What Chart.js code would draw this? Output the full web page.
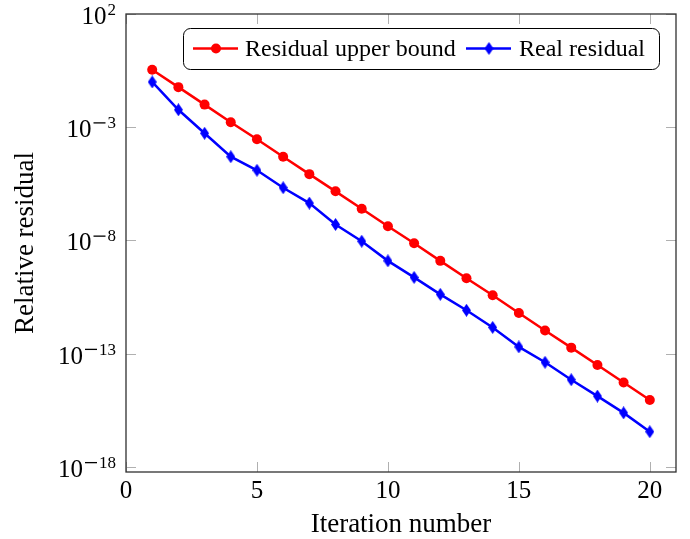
<!DOCTYPE html>
<html>
<head>
<meta charset="utf-8">
<script src="https://cdn.jsdelivr.net/npm/chart.js@4"></script>
<style>
  html, body { margin: 0; padding: 0; background: #fff; }
  #wrap { width: 690px; height: 539px; }
</style>
</head>
<body>
<div id="wrap"><canvas id="myChart" width="690" height="539"></canvas></div>
<script>
const iterations = [1, 2, 3, 4, 5, 6, 7, 8, 9, 10, 11, 12, 13, 14, 15, 16, 17, 18, 19, 20];
const upperBound = [3.47e-1, 5.9e-2, 1.0e-2, 1.66e-3, 2.95e-4, 5.0e-5, 8.5e-6, 1.48e-6, 2.51e-7, 4.27e-8,
                    7.6e-9, 1.26e-9, 2.14e-10, 3.8e-11, 6.3e-12, 1.07e-12, 1.86e-13, 3.16e-14, 5.37e-15, 9.1e-16];
const realResidual = [1.0e-1, 5.9e-3, 5.4e-4, 5.0e-5, 1.26e-5, 2.14e-6, 4.47e-7, 5.1e-8, 9.3e-9, 1.26e-9,
                      2.34e-10, 4.2e-11, 8.3e-12, 1.45e-12, 2.0e-13, 4.2e-14, 7.1e-15, 1.35e-15, 2.45e-16, 3.6e-17];
const xTicks = [0, 5, 10, 15, 20];
const yExponents = [2, -3, -8, -13, -18];
const seriesNames = ['Residual upper bound', 'Real residual'];

const FONT = '"Liberation Serif", "DejaVu Serif", serif';

// tall diamond marker like pgfplots
function makeDiamond(color) {
    const c = document.createElement('canvas');
    c.width = 9; c.height = 13;
    const g = c.getContext('2d');
    g.fillStyle = color;
    g.beginPath();
    g.moveTo(4.5, 0); g.lineTo(9, 6.5); g.lineTo(4.5, 13); g.lineTo(0, 6.5);
    g.closePath(); g.fill();
    return c;
}
const diamond = makeDiamond('#0000ff');

function drawPow(ctx, x, y, exp) {
    // "10" with raised exponent, right aligned at x, tick at y
    ctx.textAlign = 'right';
    ctx.textBaseline = 'alphabetic';
    ctx.font = '17px ' + FONT;
    const digits = String(Math.abs(exp));
    const dw = ctx.measureText(digits).width;
    ctx.fillText(digits, x, y + 1);
    let left = x - dw;
    if (exp < 0) {
        // wide math minus
        ctx.fillRect(left - 14, y - 5, 12, 1.3);
        left -= 15;
    }
    ctx.font = '25px ' + FONT;
    ctx.fillText('10', left - 1, y + 10);
}

const decor = {
    id: 'decor',
    afterDraw(chart) {
        const ctx = chart.ctx;
        const a = chart.chartArea;
        const xs = chart.scales.x, ys = chart.scales.y;
        ctx.save();
        // tick marks
        ctx.strokeStyle = '#b0b0b0';
        ctx.lineWidth = 1;
        ctx.beginPath();
        xTicks.forEach(t => {
            const px = Math.round(xs.getPixelForValue(t)) + 0.5;
            ctx.moveTo(px, a.bottom); ctx.lineTo(px, a.bottom - 10);
            ctx.moveTo(px, a.top); ctx.lineTo(px, a.top + 10);
        });
        yExponents.forEach(e => {
            const py = Math.round(ys.getPixelForValue(Math.pow(10, e))) + 0.5;
            ctx.moveTo(a.left, py); ctx.lineTo(a.left + 10, py);
            ctx.moveTo(a.right, py); ctx.lineTo(a.right - 10, py);
        });
        ctx.stroke();
        // frame
        ctx.strokeStyle = '#303030';
        ctx.lineWidth = 1.3;
        ctx.strokeRect(a.left, a.top, a.right - a.left, a.bottom - a.top);
        // tick labels
        ctx.fillStyle = '#000';
        ctx.font = '25px ' + FONT;
        ctx.textAlign = 'center';
        ctx.textBaseline = 'alphabetic';
        xTicks.forEach(t => ctx.fillText(String(t), xs.getPixelForValue(t), 498));
        yExponents.forEach(e => drawPow(ctx, 116, ys.getPixelForValue(Math.pow(10, e)), e));
        // axis titles
        ctx.font = '27px ' + FONT;
        ctx.textAlign = 'center';
        ctx.textBaseline = 'alphabetic';
        ctx.fillText('Iteration number', (a.left + a.right) / 2, 532);
        ctx.save();
        ctx.translate(33, (a.top + a.bottom) / 2);
        ctx.rotate(-Math.PI / 2);
        ctx.fillText('Relative residual', 0, 0);
        ctx.restore();
        // legend
        const bx = 183.5, by = 28.5, bw = 476, bh = 41;
        ctx.fillStyle = '#fff';
        ctx.strokeStyle = '#000';
        ctx.lineWidth = 1;
        ctx.beginPath();
        ctx.roundRect(bx, by, bw, bh, 7);
        ctx.fill(); ctx.stroke();
        const ly = 48.5;
        ctx.lineWidth = 2.5;
        ctx.strokeStyle = '#ff0000';
        ctx.beginPath(); ctx.moveTo(193, ly); ctx.lineTo(238, ly); ctx.stroke();
        ctx.fillStyle = '#ff0000';
        ctx.beginPath(); ctx.arc(216, ly, 5, 0, Math.PI * 2); ctx.fill();
        ctx.strokeStyle = '#0000ff';
        ctx.beginPath(); ctx.moveTo(466, ly); ctx.lineTo(511, ly); ctx.stroke();
        ctx.drawImage(diamond, 489 - 4.5, ly - 6.5);
        ctx.fillStyle = '#000';
        ctx.font = '24px ' + FONT;
        ctx.textAlign = 'left';
        ctx.textBaseline = 'alphabetic';
        ctx.fillText(seriesNames[0], 245, 56);
        ctx.fillText(seriesNames[1], 519, 56);
        ctx.restore();
    }
};

const ctx = document.getElementById('myChart').getContext('2d');
const myChart = new Chart(ctx, {
    type: 'line',
    data: {
        datasets: [{
            label: seriesNames[0],
            data: iterations.map((x, i) => ({ x: x, y: upperBound[i] })),
            borderColor: '#ff0000',
            backgroundColor: '#ff0000',
            borderWidth: 2.5,
            pointStyle: 'circle',
            pointRadius: 5,
            pointBorderWidth: 0,
            tension: 0
        }, {
            label: seriesNames[1],
            data: iterations.map((x, i) => ({ x: x, y: realResidual[i] })),
            borderColor: '#0000ff',
            backgroundColor: '#0000ff',
            borderWidth: 2.5,
            pointStyle: diamond,
            tension: 0
        }]
    },
    options: {
        responsive: false,
        animation: false,
        layout: { padding: { left: 126, top: 14, right: 14, bottom: 67 } },
        plugins: { legend: { display: false }, tooltip: { enabled: false } },
        scales: {
            x: {
                type: 'linear', min: 0, max: 21,
                ticks: { display: false }, grid: { display: false }, border: { display: false },
                afterFit: s => { s.height = 0; }
            },
            y: {
                type: 'logarithmic', min: 6e-19, max: 100,
                ticks: { display: false }, grid: { display: false }, border: { display: false },
                afterFit: s => { s.width = 0; }
            }
        }
    },
    plugins: [decor]
});
</script>
</body>
</html>
